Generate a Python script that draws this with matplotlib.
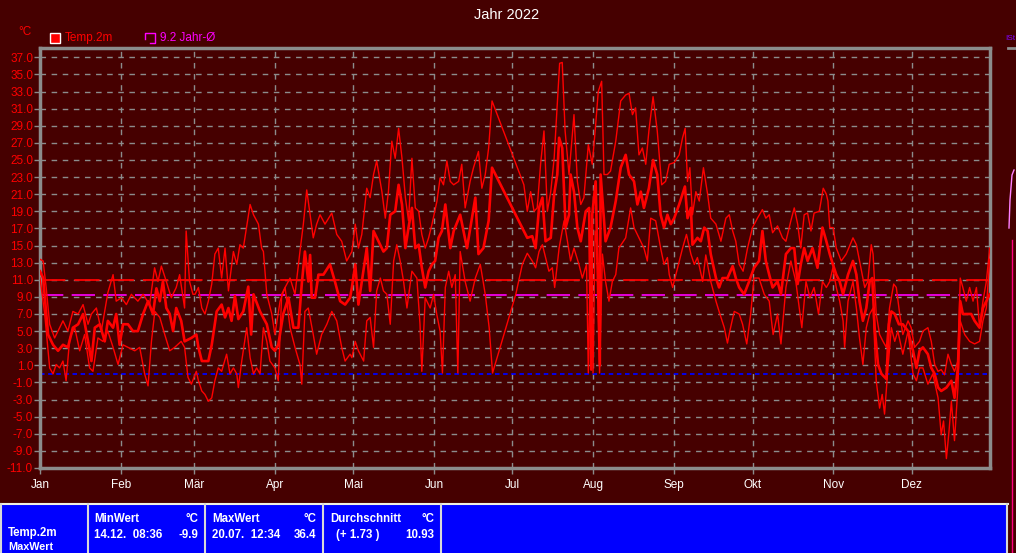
import matplotlib
matplotlib.use('Agg')
import matplotlib.pyplot as plt
from matplotlib.patches import Rectangle
from matplotlib.lines import Line2D
import numpy as np

# ---------------- data ----------------
month_labels = ['Jan', 'Feb', 'Mär', 'Apr', 'Mai', 'Jun', 'Jul', 'Aug', 'Sep', 'Okt', 'Nov', 'Dez']
month_starts = [0, 31, 59, 90, 120, 151, 181, 212, 243, 273, 304, 334]

year_avg = 10.93
longterm_avg = 9.2
frost_line = 0.0

max_days = [0, 1.2, 2.4, 3.7, 5.6, 6.9, 8.8, 10.7, 12.6, 14.6, 16.5, 18.4, 19.7, 21.6, 23.5, 26.0, 28.0, 29.2, 31.2, 33.1,
            35.0, 37.5, 39.5, 42.0, 43.9, 45.2, 46.5, 48.4, 50.3, 52.2, 53.5, 55.4, 56.0, 57.3, 58.6, 59.4, 60.7, 62.0,
            63.2, 64.5, 65.8, 67.0, 68.3, 69.6, 70.9, 72.2, 74.1, 75.4, 76.6, 77.9, 80.5, 81.8, 83.7, 84.9, 85.6, 86.9,
            88.8, 90.0, 92.0, 93.9, 95.8, 97.7, 99.6, 100.9, 102.2, 103.5, 104.7, 106.0, 107.3, 109.2, 111.8, 113.7,
            115.6, 117.5, 119.5, 120.8, 122.0, 123.3, 125.2, 126.5, 127.8, 129.0, 131.0, 132.3, 133.5, 134.8, 136.1,
            137.4, 138.7, 140.0, 141.2, 142.5, 143.8, 145.1, 146.3, 147.6, 148.9, 150.2, 152.1, 153.3, 154.6, 155.9,
            157.2, 158.5, 160.4, 161.6, 162.9, 164.8, 166.1, 168.0, 169.3, 170.6, 171.9, 173.2, 185.4, 186.7, 188.0,
            189.3, 190.5, 191.8, 193.1, 194.4, 195.7, 197.0, 198.2, 199.1, 200.1, 201.2, 202.7, 204.6, 205.9, 207.2,
            208.4, 210.1, 211.6, 212.9, 213.9, 215.2, 216.1, 217.4, 218.6, 220.6, 222.5, 224.4, 225.7, 227.0, 228.2,
            229.5, 230.8, 232.1, 233.3, 234.9, 236.5, 238.2, 239.7, 241.1, 243.0, 244.9, 246.2, 247.2, 248.1, 249.0,
            250.0, 251.3, 252.6, 254.2, 255.8, 257.0, 259.0, 260.9, 262.8, 264.1, 265.4, 266.6, 267.9, 269.4, 271.1,
            273.0, 274.9, 276.8, 278.1, 279.4, 280.7, 282.6, 284.5, 285.8, 287.7, 289.0, 290.3, 291.5, 292.8, 294.1,
            295.4, 296.6, 298.6, 300.1, 301.3, 301.9, 302.6, 303.9, 305.1, 307.0, 308.9, 311.5, 312.8, 314.0, 316.0,
            317.2, 318.5, 319.2, 320.4, 321.7, 323.0, 324.3, 325.5, 327.1, 328.1, 329.4, 330.6, 332.6, 333.8, 335.1,
            337.0, 338.3, 340.2, 341.5, 342.8, 344.1, 345.3, 346.6, 347.9, 349.2, 350.4, 351.7, 352.6, 353.6, 354.9,
            356.2, 357.5, 358.8, 360.0, 361.3, 362.6, 363.9]
max_vals = [13.4, 13.2, 10.0, 5.8, 4.2, 5.0, 6.2, 5.0, 7.3, 7.0, 8.1, 5.8, 7.0, 7.7, 5.0, 9.5, 11.6, 8.5, 8.9, 8.1,
            9.3, 8.5, 9.3, 8.1, 12.4, 10.8, 12.6, 10.8, 8.9, 10.1, 11.6, 7.7, 16.7, 10.8, 9.3, 9.3, 10.1, 7.7,
            7.0, 8.5, 10.5, 14.0, 14.7, 11.2, 14.7, 9.7, 14.3, 12.8, 15.1, 14.7, 19.8, 18.6, 17.5, 14.7, 14.3, 9.3,
            7.0, 4.6, 8.5, 10.1, 11.2, 9.3, 14.3, 17.5, 21.5, 18.6, 15.9, 17.5, 18.6, 17.5, 18.8, 16.3,
            15.5, 13.2, 14.3, 17.5, 14.7, 16.3, 21.7, 20.6, 23.3, 24.9, 21.3, 18.2, 21.3, 27.2, 25.2,
            28.7, 25.2, 20.6, 17.9, 25.2, 19.4, 19.0, 16.3, 14.7, 15.9, 17.5, 20.2, 22.9, 22.1, 24.9,
            22.5, 22.1, 22.5, 24.5, 19.4, 22.5, 24.1, 26.0, 21.7, 23.3, 26.4, 31.9, 22.1, 19.0, 21.3,
            19.0, 19.4, 24.5, 28.4, 19.0, 21.3, 25.2, 31.5, 36.3, 36.4, 28.4, 23.3, 30.3, 22.5, 19.8,
            20.6, 26.8, 24.5, 29.1, 33.0, 34.2, 23.3, 23.3, 23.7, 27.2, 31.9, 32.6, 32.8, 30.3, 31.1,
            25.6, 26.4, 24.5, 28.4, 32.4, 28.4, 22.1, 22.5, 24.5, 24.7, 25.6, 27.6, 28.7, 22.5, 24.1,
            18.6, 21.3, 20.2, 24.1, 21.0, 18.2, 17.5, 15.5, 18.2, 18.6, 16.7, 15.5, 12.8, 12.0, 14.7,
            17.1, 18.2, 19.2, 18.2, 18.6, 16.5, 17.3, 15.9, 15.5, 17.9, 19.4, 17.5, 14.7, 18.6, 18.8,
            16.7, 18.8, 19.0, 21.7, 21.0, 20.2, 17.1, 17.1, 14.7, 13.2, 14.0, 15.9, 15.1, 13.2, 10.1,
            10.8, 15.1, 14.0, 7.0, 4.6, 3.8, 3.1, 7.7, 10.5, 10.1, 7.0, 4.6, 6.2, 5.4, 3.1,
            3.8, 5.0, 5.4, 3.8, 1.1, 0.3, 0.5, -0.1, 2.3, 1.1, 0.3, 1.5, 11.2, 10.1, 8.5,
            10.1, 8.5, 10.1, 5.4, 8.5, 10.8, 14.7]

mean_days = [0, 1.2, 3.1, 5.0, 6.9, 8.8, 10.7, 12.6, 14.6, 16.5, 18.4, 19.7, 21.0, 22.9, 24.8, 26.0, 28.0, 29.2, 30.5,
             31.8, 33.7, 35.6, 37.5, 39.5, 41.4, 43.3, 44.6, 45.9, 47.1, 48.4, 49.7, 51.0, 52.2, 54.1, 55.4, 58.0,
             59.9, 60.7, 62.0, 64.5, 65.8, 67.7, 69.6, 70.9, 72.2, 73.4, 74.7, 76.0, 77.9, 79.8, 80.9, 81.8, 84.3,
             86.9, 88.8, 90.0, 91.3, 93.2, 95.2, 97.1, 99.0, 100.3, 101.5, 102.8, 103.5, 104.1, 105.4, 106.7, 108.6,
             111.1, 113.0, 115.0, 116.9, 118.8, 119.5, 120.8, 122.0, 123.3, 125.2, 126.5, 127.8, 129.7, 131.6,
             132.9, 134.2, 136.1, 137.4, 138.7, 140.0, 141.2, 142.5, 143.8, 145.1, 146.3, 147.6, 148.9, 150.2,
             151.4, 152.7, 154.0, 155.3, 157.2, 158.5, 161.0, 163.6, 165.5, 166.8, 168.0, 169.9, 171.9, 173.2,
             185.4, 186.7, 188.6, 189.9, 191.2, 192.5, 193.7, 195.7, 197.0, 198.2, 198.9, 200.1, 201.4, 202.7,
             203.3, 204.6, 205.9, 207.2, 209.1, 210.4, 211.2, 211.6, 212.9, 214.5, 214.8, 216.7, 218.6, 220.6,
             222.5, 224.4, 225.7, 227.6, 228.9, 230.2, 231.4, 233.3, 234.9, 236.5, 237.8, 239.1, 240.4, 241.7,
             243.0, 244.9, 247.1, 248.1, 249.4, 250.0, 251.9, 253.2, 254.5, 255.8, 257.0, 259.0, 260.2, 261.5,
             263.4, 265.4, 266.6, 267.9, 269.8, 271.7, 273.6, 275.5, 276.8, 278.1, 279.4, 280.7, 282.6, 283.9,
             285.8, 287.7, 289.0, 290.3, 291.5, 292.8, 294.1, 296.0, 297.9, 299.8, 301.3, 302.6, 303.8, 305.1,
             306.4, 307.7, 309.6, 311.5, 312.8, 314.0, 315.3, 316.6, 317.9, 318.9, 319.8, 321.1, 322.4, 324.3,
             325.3, 326.2, 327.5, 329.1, 330.6, 332.6, 334.5, 335.8, 337.0, 338.3, 340.2, 341.5, 342.8, 344.1,
             345.3, 347.3, 349.2, 350.4, 351.7, 352.6, 353.6, 354.9, 356.8, 358.1, 360.0, 361.3, 362.6, 363.9]
mean_vals = [12.0, 11.2, 4.6, 3.4, 2.7, 3.4, 3.1, 5.4, 5.8, 7.0, 3.8, 1.5, 5.4, 5.8, 3.8, 6.2, 5.4, 7.0, 3.4,
             5.8, 5.8, 5.0, 5.0, 7.0, 8.5, 7.0, 10.0, 8.5, 10.8, 7.7, 7.0, 5.0, 7.7, 6.2, 3.8, 4.2,
             4.6, 3.1, 1.5, 1.5, 3.4, 7.3, 8.1, 6.6, 7.7, 6.2, 9.1, 6.4, 7.3, 10.2, 4.6, 9.3, 7.3,
             5.8, 3.1, 2.7, 3.4, 7.0, 8.9, 5.4, 5.4, 10.5, 14.3, 10.8, 13.9, 8.9, 8.9, 11.6, 11.6,
             12.8, 10.8, 8.5, 8.1, 8.9, 10.1, 12.8, 8.1, 10.8, 14.7, 9.7, 16.7, 15.5, 14.3,
             14.7, 18.6, 19.0, 22.1, 19.8, 14.7, 17.1, 19.4, 14.7, 15.1, 12.4, 10.1, 12.0, 12.8,
             13.2, 15.9, 16.7, 19.8, 14.7, 16.7, 18.6, 14.7, 18.2, 20.6, 14.0, 14.7, 17.9, 24.1,
             16.7, 15.9, 16.1, 14.7, 19.4, 20.6, 15.5, 15.9, 21.0, 23.3, 27.6, 26.4, 17.1, 18.6,
             23.3, 21.3, 17.1, 15.5, 19.0, 19.4, 0.5, 18.6, 22.5, 1.0, 23.3, 15.5, 17.1, 20.2,
             24.1, 25.6, 23.3, 22.5, 19.8, 21.3, 19.4, 21.7, 25.0, 23.3, 18.6, 17.1, 18.6, 17.5,
             18.2, 19.8, 21.9, 18.2, 19.4, 15.1, 15.9, 15.5, 17.1, 16.7, 14.0, 11.2, 10.1, 11.2,
             11.2, 12.6, 11.2, 10.1, 9.3, 10.8, 12.4, 13.2, 16.7, 13.2, 11.6, 10.1, 10.8, 9.3,
             14.0, 14.7, 14.7, 10.5, 12.8, 14.7, 13.2, 14.7, 12.4, 17.1, 15.5, 14.0, 12.8, 11.6,
             10.8, 9.3, 11.6, 13.2, 11.6, 8.5, 6.2, 7.7, 10.8, 11.2, 5.4, 1.1, 0.0, -0.6,
             5.8, 7.3, 7.0, 5.8, 5.8, 5.0, 2.7, 0.7, 2.7, 3.1, 2.3, 0.7, 0.0, -1.6,
             -2.0, -1.6, -0.8, -2.8, 0.7, 8.5, 7.0, 7.0, 7.0, 6.2, 5.4, 7.7, 8.5, 9.3]

min_days = [0, 1.8, 3.7, 5.0, 6.2, 7.5, 8.8, 10.0, 11.4, 13.3, 15.2, 17.1, 19.0, 20.3, 22.2, 24.1, 26.0, 28.0, 29.9,
            31.8, 33.7, 36.3, 38.2, 40.1, 41.4, 42.7, 44.0, 45.9, 47.8, 49.7, 51.6, 54.1, 55.4, 56.7, 58.0, 59.9,
            60.7, 62.0, 63.2, 64.5, 65.8, 67.0, 68.3, 69.6, 71.5, 72.8, 74.1, 75.4, 76.0, 77.3, 79.2, 80.5, 81.8,
            83.0, 84.3, 85.6, 86.9, 88.1, 90.0, 91.3, 92.6, 93.9, 95.8, 97.7, 99.6, 100.3, 101.5, 102.8, 104.7,
            106.0, 107.9, 109.9, 111.8, 113.7, 115.6, 116.9, 118.8, 119.5, 120.8, 122.0, 124.0, 125.2, 126.5,
            127.8, 129.0, 130.4, 131.6, 132.9, 134.2, 135.5, 136.7, 138.0, 139.3, 140.6, 142.5, 144.4, 145.6,
            146.3, 147.6, 149.5, 150.8, 152.0, 153.3, 154.2, 155.3, 156.6, 157.8, 159.1, 160.1, 161.0, 162.9,
            164.8, 166.8, 168.7, 170.6, 172.1, 173.4, 182.3, 184.8, 186.7, 188.6, 189.9, 191.2, 192.5, 193.7,
            195.0, 196.3, 197.2, 198.9, 200.8, 202.1, 203.3, 204.6, 206.5, 207.8, 209.4, 210.1, 211.0, 211.9,
            212.7, 213.5, 214.4, 215.5, 216.7, 218.0, 219.3, 220.6, 221.8, 224.4, 226.3, 227.6, 229.5, 231.4,
            232.7, 234.0, 235.9, 237.8, 239.1, 240.4, 241.1, 242.4, 244.3, 246.2, 247.7, 249.4, 250.7, 251.9,
            253.9, 255.1, 257.0, 259.0, 260.2, 262.2, 263.4, 264.3, 266.0, 267.9, 269.2, 270.8, 272.3, 273.6,
            275.5, 277.5, 279.4, 280.9, 282.6, 283.9, 285.8, 287.7, 289.6, 290.9, 291.9, 293.5, 295.0, 296.6,
            298.3, 299.8, 301.3, 302.6, 303.8, 305.1, 306.4, 307.7, 308.3, 309.6, 311.5, 312.8, 314.0, 315.3,
            316.6, 317.9, 319.2, 320.4, 321.7, 322.7, 323.6, 324.9, 326.2, 327.5, 328.7, 330.6, 332.6, 334.5,
            335.8, 337.0, 338.3, 340.2, 342.1, 344.1, 345.3, 346.2, 347.3, 348.3, 349.2, 350.4, 351.7, 352.6,
            354.3, 356.2, 358.1, 360.0, 361.3, 362.6, 363.9]
min_vals = [11.2, 7.0, 0.7, 0.0, 1.1, 0.7, 1.5, -0.8, 4.2, 5.4, 2.7, 4.6, 0.7, 0.3, 4.2, 3.8, 5.0, 3.1, 1.1,
            3.4, 3.1, 2.7, 3.1, 0.0, -1.4, 3.8, 7.3, 6.6, 4.6, 2.7, 3.1, 3.8, 3.1, -0.4, -1.2, 0.3,
            -0.8, -2.0, -2.4, -3.2, -2.8, -0.8, 0.7, 0.3, 2.3, 0.0, 0.7, 0.0, -1.6, 1.5, 5.4, 1.9, 0.0,
            0.7, 0.0, 5.4, 3.8, 1.5, 0.7, -0.8, 9.3, 10.1, 5.4, 3.1, 1.1, -1.2, 7.3, 7.7, 4.6,
            2.3, 4.6, 5.8, 7.3, 6.2, 3.1, 1.5, 2.3, 1.9, 3.8, 2.7, 1.5, 6.2, 6.6,
            3.1, 9.7, 11.2, 9.7, 9.3, 5.8, 13.2, 15.1, 13.2, 10.8, 7.7, 12.0, 11.2, 5.8,
            0.3, 8.9, 7.7, 9.3, 7.0, 5.0, 0.1, 10.1, 12.0, 10.1, 11.6, 0.1, 14.3, 10.8,
            8.5, 11.2, 12.8, 9.3, 5.4, 0.1, 9.3, 12.8, 14.1, 13.2, 12.4, 14.3, 15.1, 13.6,
            12.0, 12.4, 10.1, 14.7, 17.9, 15.5, 13.2, 14.7, 12.8, 11.2, 12.8, 0.1, 16.3, 0.1,
            16.7, 14.7, 0.1, 14.0, 10.8, 8.5, 10.8, 11.6, 14.7, 15.9, 19.4, 17.1, 15.9, 14.7,
            13.2, 18.2, 17.9, 14.7, 12.8, 13.6, 11.6, 10.1, 12.4, 14.7, 16.3, 14.0, 12.8, 13.6,
            10.8, 13.9, 10.8, 8.5, 7.3, 5.4, 3.6, 5.0, 7.3, 7.0, 5.8, 3.5, 7.0, 11.2,
            11.2, 9.3, 8.5, 4.6, 7.0, 3.5, 10.1, 13.2, 10.8, 7.7, 5.4, 10.8, 8.9, 10.1,
            7.0, 10.8, 10.1, 10.8, 12.4, 10.1, 8.5, 6.2, 3.1, 8.5, 10.8, 7.7, 4.2, 1.1,
            5.4, 7.0, 7.7, -0.8, -4.0, -2.4, -4.7, 0.7, 5.4, 3.8, 5.0, 2.3, 5.0, 0.0,
            -0.8, 0.7, 0.7, -1.2, 0.0, -2.8, -7.1, -5.5, -9.9, -6.7, -3.2, -7.8, -1.6, 6.2,
            4.6, 3.8, 3.5, 3.8, 6.2, 7.7, 13.4]

stat_series = 'Temp.2m'
stat_row2 = 'MaxWert'
stat_min = ('MinWert', '14.12.  08:36', '-9.9')
stat_max = ('MaxWert', '20.07.  12:34', '36.4')
stat_avg = ('Durchschnitt', '(+ 1.73 )', '10.93')

# ---------------- figure ----------------
W, H = 1016, 553
fig = plt.figure(figsize=(W / 100, H / 100), dpi=100)
BG = '#460000'
fig.patch.set_facecolor(BG)
FONT = 'Liberation Sans'
plt.rcParams['font.family'] = [FONT, 'DejaVu Sans']

def fx(p):
    return p / W

def fy(p):
    return 1 - p / H

ax = fig.add_axes([fx(40), fy(468), fx(990) - fx(40), fy(48) - fy(468)])
ax.set_facecolor(BG)
ax.set_xlim(0, 364)
ax.set_ylim(-11, 38.09)

yt = np.arange(-11, 38, 2)
ax.set_yticks(yt)
ax.set_yticklabels([f'{v:.1f}' for v in yt])
ax.set_xticks(month_starts)
ax.set_xticklabels(month_labels)
ax.tick_params(axis='y', colors='#8c8c8c', labelcolor='#ff0000', labelsize=8.5, length=4, width=1, pad=1)
ax.tick_params(axis='x', colors='#8c8c8c', labelcolor='white', labelsize=8.5, length=4, width=1, pad=4)
ax.grid(True, color='#8c8c8c', linestyle=(0, (4, 4)), linewidth=1)
ax.set_axisbelow(True)
for s in ax.spines.values():
    s.set_color('#8c8c8c')
    s.set_linewidth(2.5)

ax.axhline(frost_line, color='#0000ff', linestyle=(0, (2.5, 2)), linewidth=1.3, zorder=2)
ax.axhline(longterm_avg, color='#ff00ff', linestyle=(0, (14, 5)), linewidth=1.2, zorder=2)
ax.axhline(year_avg, color='#ff0000', linestyle=(0, (14, 5)), linewidth=1.3, zorder=2)

ax.plot(max_days, max_vals, color='#ff0000', linewidth=1.0, zorder=3)
ax.plot(min_days, min_vals, color='#ff0000', linewidth=1.0, zorder=3)
ax.plot(mean_days, mean_vals, color='#ff0000', linewidth=1.9, zorder=4)

# title and unit
fig.text(fx(507), fy(15), 'Jahr 2022', color='white', ha='center', va='center', fontsize=10.5)
fig.text(fx(25), fy(32), '°C', color='#ff0000', ha='center', va='center', fontsize=8.5)

# legend
fig.patches.append(Rectangle((fx(50), fy(43)), fx(10), fy(33) - fy(43), transform=fig.transFigure,
                             facecolor='#ff0000', edgecolor='white', linewidth=1))
fig.text(fx(65), fy(38), 'Temp.2m', color='#ff0000', ha='left', va='center', fontsize=8.5)
fig.lines.append(Line2D([fx(145), fx(145), fx(155), fx(155), fx(150)],
                        [fy(39), fy(33), fy(33), fy(43), fy(43)],
                        transform=fig.transFigure, color='#ff00ff', linewidth=1))
fig.text(fx(160), fy(38), '9.2 Jahr-Ø', color='#ff00ff', ha='left', va='center', fontsize=8.5)

# bottom statistics table
fig.patches.append(Rectangle((0, 0), fx(1008), fy(503), transform=fig.transFigure,
                             facecolor='#0000ff', edgecolor='none'))
fig.lines.append(Line2D([0, fx(1008)], [fy(503.5), fy(503.5)], transform=fig.transFigure,
                        color='#f0f0e0', linewidth=1.5))
for xs in [1, 88, 205, 323, 441, 1007]:
    fig.lines.append(Line2D([fx(xs), fx(xs)], [fy(504), 0], transform=fig.transFigure,
                            color='#d8d8d8', linewidth=1.5))

tk = dict(color='white', fontsize=8.3, fontweight='bold', va='center')
fig.text(fx(8), fy(533), stat_series, ha='left', **tk)
fig.text(fx(8), fy(546.5), stat_row2, ha='left', color='white', fontsize=7.8, fontweight='bold', va='center')
for (x0, x1, xr), st in zip([(94, 199, 198), (212, 317, 316), (330, 435, 434)], [stat_min, stat_max, stat_avg]):
    fig.text(fx(x0), fy(519), st[0], ha='left', **tk)
    fig.text(fx(x1), fy(519), '°C', ha='right', **tk)
    fig.text(fx(x0 + (6 if st is stat_avg else 0)), fy(535), st[1], ha='left', **tk)
    fig.text(fx(xr), fy(535), st[2], ha='right', **tk)

# clipped neighbour chart at the right edge
fig.lines.append(Line2D([fx(1008), 1], [fy(48), fy(48)], transform=fig.transFigure, color='#8c8c8c', linewidth=2))
fig.text(fx(1015), fy(38), 'ISt', color='#8000ff', ha='right', va='center', fontsize=6)
fig.lines.append(Line2D([fx(1012), fx(1012)], [fy(240), 0], transform=fig.transFigure, color='#ff0080', linewidth=1))
fig.lines.append(Line2D([fx(1009), fx(1010), fx(1012), fx(1014)], [fy(228), fy(200), fy(175), fy(170)],
                        transform=fig.transFigure, color='#ff80ff', linewidth=1))

fig.savefig('out.png', dpi=100, facecolor=BG)
